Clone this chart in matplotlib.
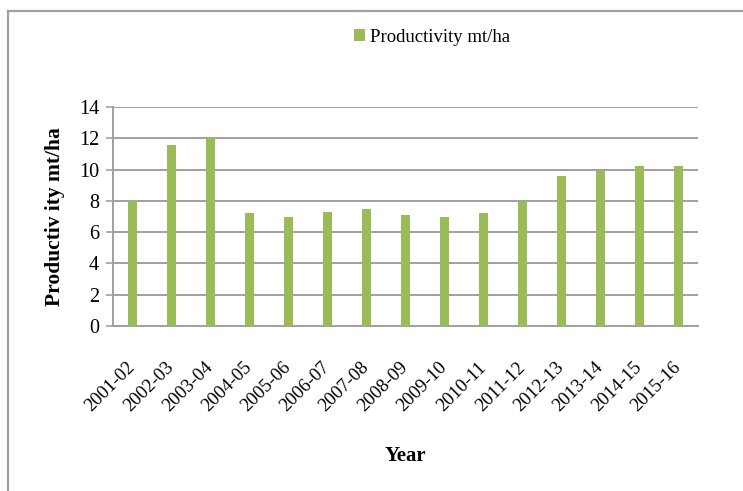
import matplotlib
matplotlib.use("Agg")
import matplotlib.pyplot as plt
from matplotlib.lines import Line2D

years = ["2001-02", "2002-03", "2003-04", "2004-05", "2005-06", "2006-07",
         "2007-08", "2008-09", "2009-10", "2010-11", "2011-12", "2012-13",
         "2013-14", "2014-15", "2015-16"]
productivity = [8.0, 11.6, 12.0, 7.2, 7.0, 7.3, 7.45, 7.1, 6.95, 7.2,
                8.0, 9.6, 9.9, 10.2, 10.2]
y_ticks = [0, 2, 4, 6, 8, 10, 12, 14]

plt.rcParams["font.family"] = ["Liberation Serif", "DejaVu Serif"]

W, H = 743, 491
fig = plt.figure(figsize=(W / 100, H / 100), dpi=100)
# plot area in pixels: x 113..698, y 107..326
ax = fig.add_axes([113 / W, 1 - 326 / H, 585 / W, 219 / H])

grid_col = "#a0a0a0"
bar_col = "#9bbb59"

x = list(range(len(years)))
ax.bar(x, productivity, width=0.24, color=bar_col, zorder=3,
       label="Productivity mt/ha")

ax.set_xlim(-0.5, len(years) - 0.5)
ax.set_ylim(0, 14)
ax.set_yticks(y_ticks)
ax.yaxis.grid(True, color=grid_col, linewidth=1.4, zorder=0)

for s in ["top", "right"]:
    ax.spines[s].set_visible(False)
for s in ["left", "bottom"]:
    ax.spines[s].set_color(grid_col)
    ax.spines[s].set_linewidth(1.4)

ax.tick_params(axis="y", length=5, width=1.2, color=grid_col, labelsize=14.5, pad=5)
ax.tick_params(axis="x", length=0, labelsize=13.5, pad=28)
ax.set_xticks(x)
ax.set_xticklabels(years, rotation=45, ha="right", va="center",
                   rotation_mode="anchor")

ax.set_ylabel("Productiv ity mt/ha", fontsize=15.5, fontweight="bold", labelpad=10)
ax.set_xlabel("Year", fontsize=15, fontweight="bold", labelpad=22)

fig.legend(loc="center", bbox_to_anchor=(432 / W, 1 - 37 / H), frameon=False,
           fontsize=13.5, handlelength=0.6, handleheight=0.6, handletextpad=0.3)

# chart border (partially cropped in the original)
fig.add_artist(Line2D([8 / W, 8 / W], [0, 1 - 11 / H], transform=fig.transFigure,
                      color=grid_col, linewidth=1.6))
fig.add_artist(Line2D([8 / W, 1], [1 - 11 / H, 1 - 11 / H], transform=fig.transFigure,
                      color=grid_col, linewidth=1.6))

fig.savefig("out.png", dpi=100, facecolor="white")
